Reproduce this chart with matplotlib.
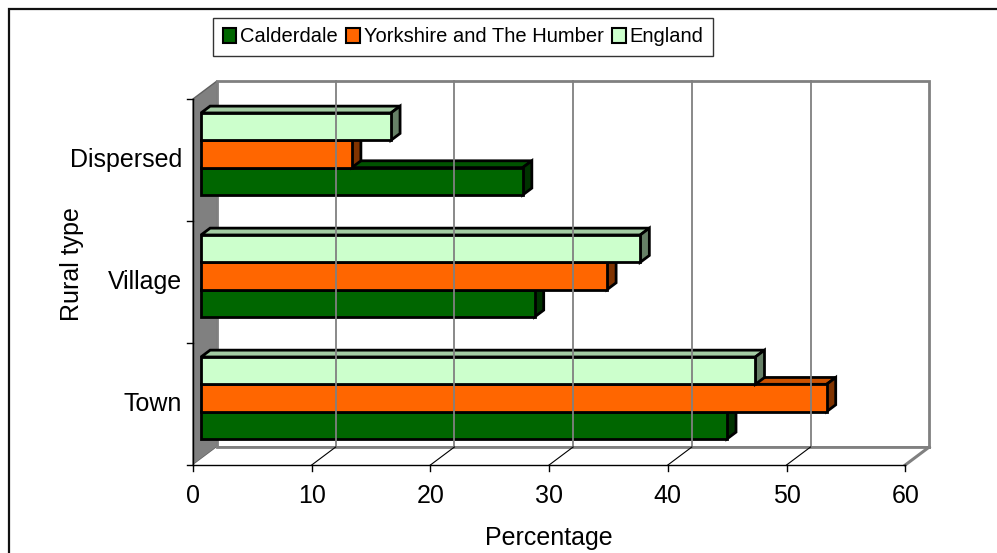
"""Rural type breakdown - Excel style 3D clustered bar chart."""

import matplotlib
matplotlib.use('Agg')
import matplotlib.pyplot as plt
from matplotlib.patches import Polygon, Rectangle, Patch

plt.rcParams['font.family'] = ['Liberation Sans', 'DejaVu Sans']

# Data
categories = ['Town', 'Village', 'Dispersed']
series_names = ['Calderdale', 'Yorkshire and The Humber', 'England']
calderdale = [44.3, 28.1, 27.1]
yorkshire = [52.7, 34.2, 12.7]
england = [46.7, 37.0, 16.0]
x_ticks = [0, 10, 20, 30, 40, 50, 60]

# face colours: front, top, end
front_cols = ['#006600', '#FF6600', '#CCFFCC']
top_cols = ['#005200', '#CC5200', '#A3CCA3']
end_cols = ['#003300', '#803300', '#668066']

W, H = 997, 553
fig = plt.figure(figsize=(W / 100, H / 100), dpi=100)
ax = fig.add_axes([0, 0, 1, 1])
ax.set_xlim(-16.26, 67.73)
ax.set_ylim(-0.7213, 3.811)
ax.axis('off')

XMAX = x_ticks[-1]
NCAT = len(categories)
DX, DY = 2.022, 0.1475          # full depth offset of the 3D box
F0, FD = 1 / 3, 0.38            # bar front depth and bar thickness (fractions)
GRAY = '#808080'

# left wall
ax.add_patch(Polygon([(0, 0), (DX, DY), (DX, NCAT + DY), (0, NCAT)],
                     closed=True, facecolor=GRAY, edgecolor='#606060', lw=1))
# back wall
ax.add_patch(Rectangle((DX, DY), XMAX, NCAT, facecolor='white', edgecolor=GRAY, lw=2))
for v in x_ticks[1:-1]:
    ax.plot([v + DX, v + DX], [DY, NCAT + DY], color=GRAY, lw=1.3)
# floor
ax.add_patch(Polygon([(0, 0), (XMAX, 0), (XMAX + DX, DY), (DX, DY)],
                     closed=True, facecolor='white', edgecolor='none'))
ax.plot([XMAX, XMAX + DX], [0, DY], color=GRAY, lw=2.2)
ax.plot([DX, XMAX + DX], [DY, DY], color=GRAY, lw=2)
for v in x_ticks[1:-1]:
    ax.plot([v, v + DX], [0, DY], color='black', lw=0.8)

# axes lines and ticks
ax.plot([0, XMAX], [0, 0], color='black', lw=1)
ax.plot([0, 0], [0, NCAT], color='black', lw=1)
for v in x_ticks:
    ax.plot([v, v], [0, -0.05], color='black', lw=1)
    ax.text(v, -0.311, str(v), ha='center', va='baseline', fontsize=18)
for i in range(NCAT + 1):
    ax.plot([0, -0.5], [i, i], color='black', lw=1)
for i, c in enumerate(categories):
    ax.text(-0.93, i + 0.5 - 0.06, c, ha='right', va='baseline', fontsize=18)

ax.text(30, -0.656, 'Percentage', ha='center', va='baseline', fontsize=18)
ax.text(-10.19, 1.643, 'Rural type', ha='center', va='center', rotation=90, fontsize=18)

# bars
values = [calderdale, yorkshire, england]
bh = 0.224
ox, oy = F0 * DX, F0 * DY
ddx, ddy = FD * DX, FD * DY
for i in range(NCAT):
    for s, vals in enumerate(values):
        v = vals[i]
        x0, x1 = ox, ox + v
        y0 = i + 0.5 - 1.5 * bh + s * bh + oy
        y1 = y0 + bh
        kw = dict(closed=True, edgecolor='black', lw=2, joinstyle='miter')
        ax.add_patch(Polygon([(x0, y1), (x1, y1), (x1 + ddx, y1 + ddy), (x0 + ddx, y1 + ddy)],
                             facecolor=top_cols[s], **kw))
        ax.add_patch(Polygon([(x1, y0), (x1 + ddx, y0 + ddy), (x1 + ddx, y1 + ddy), (x1, y1)],
                             facecolor=end_cols[s], **kw))
        ax.add_patch(Polygon([(x0, y0), (x1, y0), (x1, y1), (x0, y1)],
                             facecolor=front_cols[s], **kw))

# legend
handles = [Patch(facecolor=front_cols[s], edgecolor='black', lw=1.5) for s in range(3)]
leg = fig.legend(handles, series_names, loc='center', bbox_to_anchor=(463 / W, 1 - 37 / H),
                 ncol=3, frameon=True, fancybox=False, edgecolor='black', fontsize=14.5,
                 handlelength=0.65, handleheight=0.8, handletextpad=0.2,
                 columnspacing=0.45, borderpad=0.45, borderaxespad=0)
leg.get_frame().set_linewidth(1)

# outer chart border (runs off the right and bottom edges)
fig.patches.append(Rectangle((8.5 / W, -0.1), 1.2, 1.1 - 9.5 / H, transform=fig.transFigure,
                             fill=False, edgecolor='#111111', lw=1.6))

fig.savefig('out.png', dpi=100)
